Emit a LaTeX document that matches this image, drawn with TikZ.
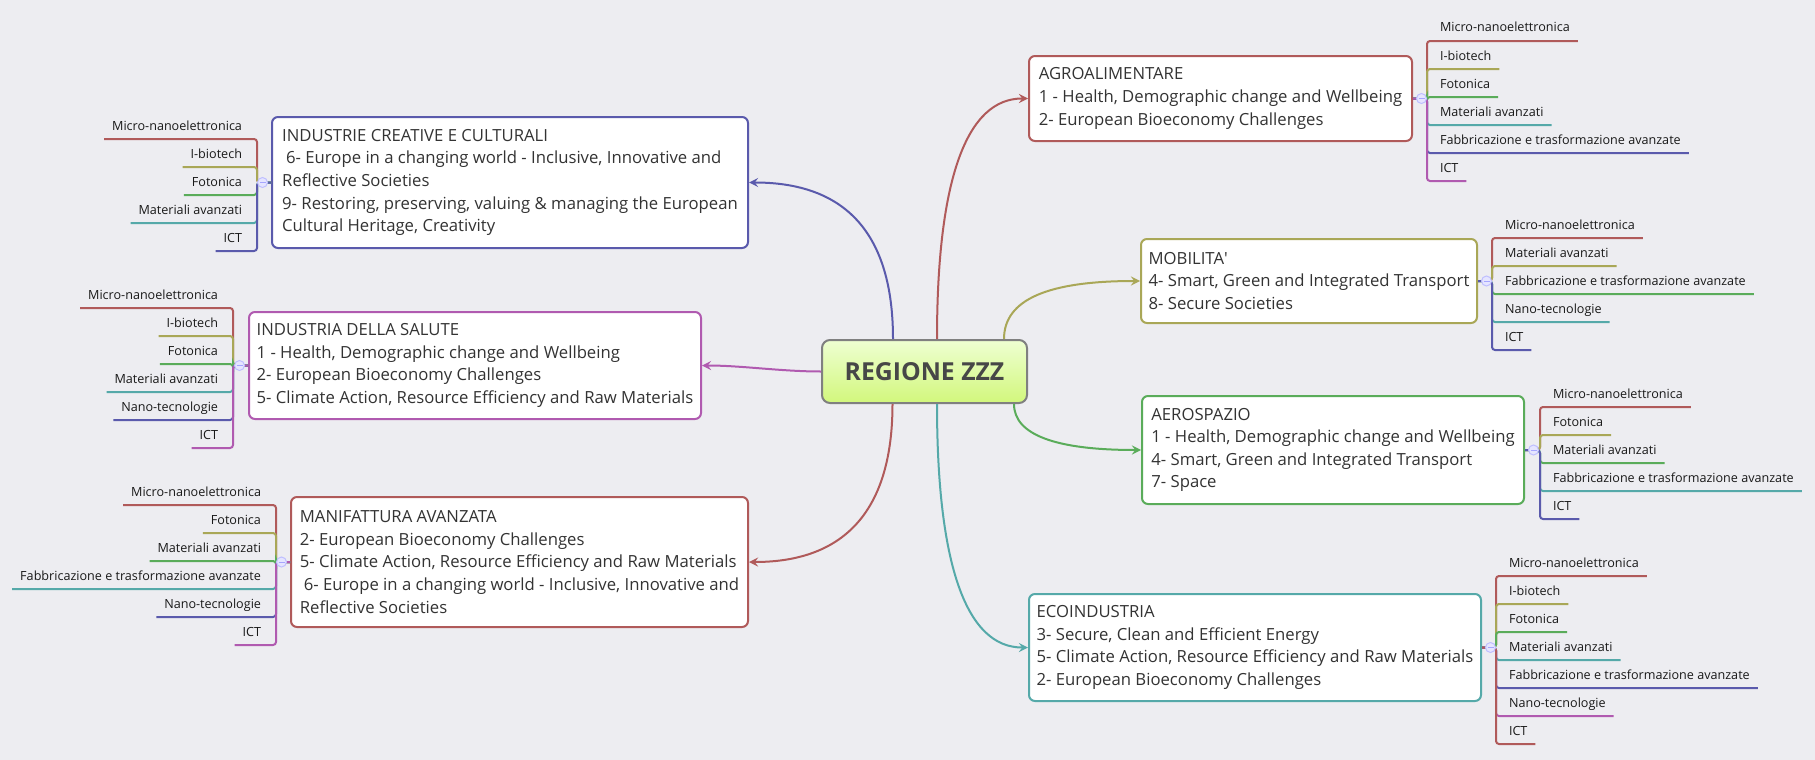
\documentclass[tikz,border=0pt]{standalone}
\usepackage{fontspec}
\setmainfont{Open Sans}
\usetikzlibrary{positioning}
\definecolor{cr}{HTML}{B05A5A}
\definecolor{co}{HTML}{A9A757}
\definecolor{cg}{HTML}{5AAC5A}
\definecolor{ct}{HTML}{55A9A9}
\definecolor{cb}{HTML}{5A5AAC}
\definecolor{cm}{HTML}{B05AB0}
\definecolor{sfondo}{HTML}{EDEDF1}
\definecolor{hubtop}{HTML}{EEFFD2}
\definecolor{hubbot}{HTML}{D2F77C}
\tikzset{every picture/.style={line width=1pt}}
\tikzset{
  hub/.style={draw=black!50, rounded corners=4pt, top color=hubtop, bottom color=hubbot,
    text=black!72, font=\fontsize{12.4pt}{14pt}\selectfont\bfseries,
    minimum width=102.5pt, minimum height=31.5pt},
  topic/.style={draw=#1, fill=white, rounded corners=3pt, anchor=north west, align=left,
    text=black!80, font=\fontsize{8.35pt}{11.3pt}\selectfont, inner sep=0pt},
  leafr/.style={anchor=south west, inner xsep=3.5pt, inner ysep=4pt, text depth=0pt,
    text=black!90, font=\fontsize{6.3pt}{7.5pt}\selectfont},
  leafl/.style={leafr, anchor=south east},
  twig/.style={draw=#1, rounded corners=1.5pt},
  link/.style={->, draw=#1},
  toggle/.style={circle, draw=blue!25, fill=blue!10, line width=0.5pt, minimum size=5pt, inner sep=0pt,
    path picture={\draw[blue!35, line width=0.4pt] ([xshift=-1.5pt]path picture bounding box.center)
      -- ([xshift=1.5pt]path picture bounding box.center);}}
}
\begin{document}
\begin{tikzpicture}[x=0.5pt, y=-0.5pt, >=stealth]
        \fill[sfondo] (0,0) rectangle (1815,760);
        \useasboundingbox (0,0) rectangle (1815,760);
        % nodo centrale
        \node[hub] (ctr) at (924.5, 371.5) {REGIONE ZZZ};
        % ambiti a destra
        \node[topic=cr, minimum width=191.5pt, minimum height=42.5pt] (agro) at (1028, 55)
            {AGROALIMENTARE\\1 - Health, Demographic change and Wellbeing\\2- European Bioeconomy Challenges};
        \node[topic=co, minimum width=168pt, minimum height=42pt] (mob) at (1140, 238)
            {MOBILITA\textquotesingle\\4- Smart, Green and Integrated Transport\\8- Secure Societies};
        \node[topic=cg, minimum width=191pt, minimum height=54pt] (aero) at (1141, 395)
            {AEROSPAZIO\\1 - Health, Demographic change and Wellbeing\\4- Smart, Green and Integrated Transport\\7- Space};
        \node[topic=ct, minimum width=226pt, minimum height=53.5pt] (eco) at (1028, 593)
            {ECOINDUSTRIA\\3- Secure, Clean and Efficient Energy\\5- Climate Action, Resource Efficiency and Raw Materials\\2- European Bioeconomy Challenges};
        % ambiti a sinistra
        \node[topic=cb, minimum width=238pt, minimum height=65.5pt] (ind) at (271, 116)
            {INDUSTRIE CREATIVE E CULTURALI\\\hspace*{2pt}6- Europe in a changing world - Inclusive, Innovative and\\Reflective Societies\\9- Restoring, preserving, valuing \& managing the European\\Cultural Heritage, Creativity};
        \node[topic=cm, minimum width=226pt, minimum height=53.5pt] (sal) at (248, 311)
            {INDUSTRIA DELLA SALUTE\\1 - Health, Demographic change and Wellbeing\\2- European Bioeconomy Challenges\\5- Climate Action, Resource Efficiency and Raw Materials};
        \node[topic=cr, minimum width=228.5pt, minimum height=65pt] (man) at (290, 496)
            {MANIFATTURA AVANZATA\\2- European Bioeconomy Challenges\\5- Climate Action, Resource Efficiency and Raw Materials\\\hspace*{2pt}6- Europe in a changing world - Inclusive, Innovative and\\Reflective Societies};
        % rami dal centro
        \draw[link=cr] ([xshift=6.25pt]ctr.north) .. controls +(0,-161) and +(-61,0) .. (agro.west);
        \draw[link=co] ([xshift=-12pt]ctr.north east) .. controls +(0,-40) and +(-91,0) .. (mob.west);
        \draw[link=cg] ([xshift=-7pt]ctr.south east) .. controls +(0,31) and +(-85,0) .. (aero.west);
        \draw[link=ct] ([xshift=6.25pt]ctr.south) .. controls +(0,163) and +(-61,0) .. (eco.west);
        \draw[link=cb] ([xshift=-15.75pt]ctr.north) .. controls +(0,-105) and +(97,0) .. (ind.east);
        \draw[link=cm] (ctr.west) .. controls +(-40,0) and +(40,0) .. (sal.east);
        \draw[link=cr] ([xshift=-16pt]ctr.south) .. controls +(0,105) and +(97,0) .. (man.east);
        % punti di snodo
        \coordinate (agroj) at ([xshift=7pt]agro.east);
        \coordinate (mobj) at ([xshift=7pt]mob.east);
        \coordinate (aeroj) at ([xshift=7.5pt]aero.east);
        \coordinate (ecoj) at ([xshift=7pt]eco.east);
        \coordinate (indj) at ([xshift=-7pt]ind.west);
        \coordinate (salj) at ([xshift=-7.5pt]sal.west);
        \coordinate (manj) at ([xshift=-7pt]man.west);
        % tecnologie: AGROALIMENTARE
        \node[leafr] (agro1) at (1432, 41) {Micro-nanoelettronica}; \draw[twig=cr] (agro.east) -- (agroj) |- (agro1.south east);
        \node[leafr] (agro2) at (1432, 69) {I-biotech}; \draw[twig=co] (agro.east) -- (agroj) |- (agro2.south east);
        \node[leafr] (agro3) at (1432, 97) {Fotonica}; \draw[twig=cg] (agro.east) -- (agroj) |- (agro3.south east);
        \node[leafr] (agro4) at (1432, 125) {Materiali avanzati}; \draw[twig=ct] (agro.east) -- (agroj) |- (agro4.south east);
        \node[leafr] (agro5) at (1432, 153) {Fabbricazione e trasformazione avanzate}; \draw[twig=cb] (agro.east) -- (agroj) |- (agro5.south east);
        \node[leafr] (agro6) at (1432, 181) {ICT}; \draw[twig=cm] (agro.east) -- (agroj) |- (agro6.south east);
        % tecnologie: MOBILITA'
        \node[leafr] (mob1) at (1497, 238) {Micro-nanoelettronica}; \draw[twig=cr] (mob.east) -- (mobj) |- (mob1.south east);
        \node[leafr] (mob2) at (1497, 266) {Materiali avanzati}; \draw[twig=co] (mob.east) -- (mobj) |- (mob2.south east);
        \node[leafr] (mob3) at (1497, 294) {Fabbricazione e trasformazione avanzate}; \draw[twig=cg] (mob.east) -- (mobj) |- (mob3.south east);
        \node[leafr] (mob4) at (1497, 322) {Nano-tecnologie}; \draw[twig=ct] (mob.east) -- (mobj) |- (mob4.south east);
        \node[leafr] (mob5) at (1497, 350) {ICT}; \draw[twig=cb] (mob.east) -- (mobj) |- (mob5.south east);
        % tecnologie: AEROSPAZIO
        \node[leafr] (aero1) at (1545, 407) {Micro-nanoelettronica}; \draw[twig=cr] (aero.east) -- (aeroj) |- (aero1.south east);
        \node[leafr] (aero2) at (1545, 435) {Fotonica}; \draw[twig=co] (aero.east) -- (aeroj) |- (aero2.south east);
        \node[leafr] (aero3) at (1545, 463) {Materiali avanzati}; \draw[twig=cg] (aero.east) -- (aeroj) |- (aero3.south east);
        \node[leafr] (aero4) at (1545, 491) {Fabbricazione e trasformazione avanzate}; \draw[twig=ct] (aero.east) -- (aeroj) |- (aero4.south east);
        \node[leafr] (aero5) at (1545, 519) {ICT}; \draw[twig=cb] (aero.east) -- (aeroj) |- (aero5.south east);
        % tecnologie: ECOINDUSTRIA
        \node[leafr] (eco1) at (1501, 576) {Micro-nanoelettronica}; \draw[twig=cr] (eco.east) -- (ecoj) |- (eco1.south east);
        \node[leafr] (eco2) at (1501, 604) {I-biotech}; \draw[twig=co] (eco.east) -- (ecoj) |- (eco2.south east);
        \node[leafr] (eco3) at (1501, 632) {Fotonica}; \draw[twig=cg] (eco.east) -- (ecoj) |- (eco3.south east);
        \node[leafr] (eco4) at (1501, 660) {Materiali avanzati}; \draw[twig=ct] (eco.east) -- (ecoj) |- (eco4.south east);
        \node[leafr] (eco5) at (1501, 688) {Fabbricazione e trasformazione avanzate}; \draw[twig=cb] (eco.east) -- (ecoj) |- (eco5.south east);
        \node[leafr] (eco6) at (1501, 716) {Nano-tecnologie}; \draw[twig=cm] (eco.east) -- (ecoj) |- (eco6.south east);
        \node[leafr] (eco7) at (1501, 744) {ICT}; \draw[twig=cr] (eco.east) -- (ecoj) |- (eco7.south east);
        % tecnologie: INDUSTRIE CREATIVE E CULTURALI
        \node[leafl] (ind1) at (250, 139) {Micro-nanoelettronica}; \draw[twig=cr] (ind.west) -- (indj) |- (ind1.south west);
        \node[leafl] (ind2) at (250, 167) {I-biotech}; \draw[twig=co] (ind.west) -- (indj) |- (ind2.south west);
        \node[leafl] (ind3) at (250, 195) {Fotonica}; \draw[twig=cg] (ind.west) -- (indj) |- (ind3.south west);
        \node[leafl] (ind4) at (250, 223) {Materiali avanzati}; \draw[twig=ct] (ind.west) -- (indj) |- (ind4.south west);
        \node[leafl] (ind5) at (250, 251) {ICT}; \draw[twig=cb] (ind.west) -- (indj) |- (ind5.south west);
        % tecnologie: INDUSTRIA DELLA SALUTE
        \node[leafl] (sal1) at (226, 308) {Micro-nanoelettronica}; \draw[twig=cr] (sal.west) -- (salj) |- (sal1.south west);
        \node[leafl] (sal2) at (226, 336) {I-biotech}; \draw[twig=co] (sal.west) -- (salj) |- (sal2.south west);
        \node[leafl] (sal3) at (226, 364) {Fotonica}; \draw[twig=cg] (sal.west) -- (salj) |- (sal3.south west);
        \node[leafl] (sal4) at (226, 392) {Materiali avanzati}; \draw[twig=ct] (sal.west) -- (salj) |- (sal4.south west);
        \node[leafl] (sal5) at (226, 420) {Nano-tecnologie}; \draw[twig=cb] (sal.west) -- (salj) |- (sal5.south west);
        \node[leafl] (sal6) at (226, 448) {ICT}; \draw[twig=cm] (sal.west) -- (salj) |- (sal6.south west);
        % tecnologie: MANIFATTURA AVANZATA
        \node[leafl] (man1) at (269, 505) {Micro-nanoelettronica}; \draw[twig=cr] (man.west) -- (manj) |- (man1.south west);
        \node[leafl] (man2) at (269, 533) {Fotonica}; \draw[twig=co] (man.west) -- (manj) |- (man2.south west);
        \node[leafl] (man3) at (269, 561) {Materiali avanzati}; \draw[twig=cg] (man.west) -- (manj) |- (man3.south west);
        \node[leafl] (man4) at (269, 589) {Fabbricazione e trasformazione avanzate}; \draw[twig=ct] (man.west) -- (manj) |- (man4.south west);
        \node[leafl] (man5) at (269, 617) {Nano-tecnologie}; \draw[twig=cb] (man.west) -- (manj) |- (man5.south west);
        \node[leafl] (man6) at (269, 645) {ICT}; \draw[twig=cm] (man.west) -- (manj) |- (man6.south west);
        % pulsanti di chiusura
        \node[toggle, right=1.5pt of agro] (agrot) {};
        \node[toggle, right=1.5pt of mob] (mobt) {};
        \node[toggle, right=1.5pt of aero] (aerot) {};
        \node[toggle, right=1.5pt of eco] (ecot) {};
        \node[toggle, left=1.5pt of ind] (indt) {};
        \node[toggle, left=1.5pt of sal] (salt) {};
        \node[toggle, left=1.5pt of man] (mant) {};
    \end{tikzpicture}
\end{document}
